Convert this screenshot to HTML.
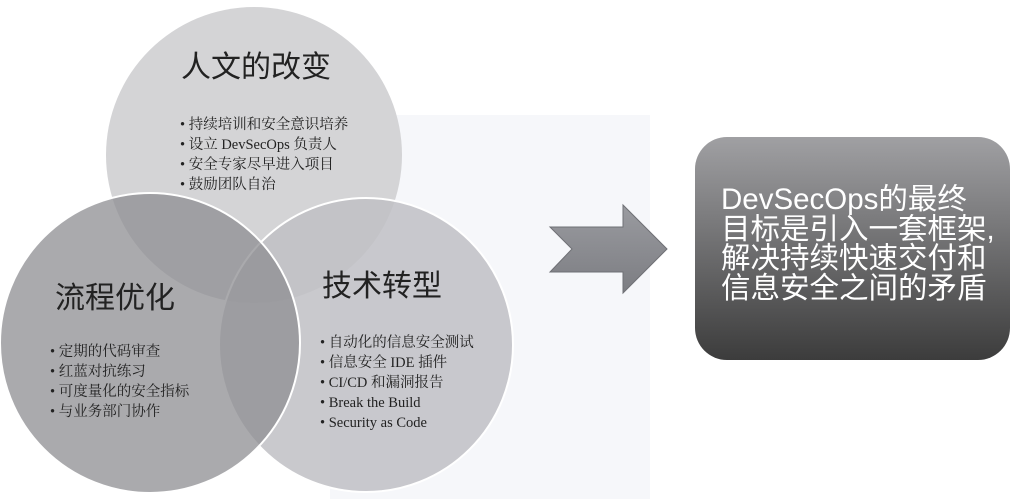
<!DOCTYPE html>
<html><head><meta charset="utf-8"><style>
body{margin:0;width:1013px;height:499px;background:#fff;overflow:hidden;position:relative;font-family:"Liberation Serif","Noto Serif CJK SC",serif}
.t{position:absolute;font-family:"Liberation Sans","Noto Sans CJK SC",sans-serif;font-size:30px;color:#222;white-space:nowrap;line-height:1}
.b{position:absolute;font-size:14.5px;color:#222;line-height:20px;white-space:nowrap}
</style></head><body>
<svg width="1013" height="499" style="position:absolute;left:0;top:0">
<defs>
<linearGradient id="g" x1="0" y1="0" x2="0" y2="1"><stop offset="0" stop-color="#a0a0a3"/><stop offset="1" stop-color="#3c3c3c"/></linearGradient>
<linearGradient id="a" x1="0" y1="0" x2="0" y2="1"><stop offset="0" stop-color="#9a9ba0"/><stop offset="1" stop-color="#7c7d82"/></linearGradient>
</defs>
<rect x="330" y="115" width="320" height="384" fill="#f6f7fa"/>
<circle cx="254" cy="155" r="148" fill="#d4d4d6"/>
<circle cx="366" cy="345" r="147" fill="#bfc0c4" fill-opacity="0.85" stroke="#fff" stroke-width="2"/>
<circle cx="150" cy="343" r="150" fill="#8e8e91" fill-opacity="0.75" stroke="#fff" stroke-width="2"/>
<polygon points="550,227 623,227 623,205 667,249 623,293 623,272 550,272 572,249" fill="url(#a)" stroke="#6f7075" stroke-width="1"/>
<rect x="695" y="137" width="315" height="223" rx="32" fill="url(#g)"/>
</svg>
<div class="t" style="left:181px;top:53px">人文的改变</div>
<div class="t" style="left:55px;top:284px">流程优化</div>
<div class="t" style="left:322px;top:272px">技术转型</div>
<div class="b" style="left:180px;top:115px">• 持续培训和安全意识培养<br>• 设立 DevSecOps 负责人<br>• 安全专家尽早进入项目<br>• 鼓励团队自治</div>
<div class="b" style="left:50px;top:342px">• 定期的代码审查<br>• 红蓝对抗练习<br>• 可度量化的安全指标<br>• 与业务部门协作</div>
<div class="b" style="left:320px;top:333px">• 自动化的信息安全测试<br>• 信息安全 IDE 插件<br>• CI/CD 和漏洞报告<br>• Break the Build<br>• Security as Code</div>
<div style="position:absolute;left:721px;top:185px;color:#fff;font-family:'Liberation Sans','Noto Sans CJK SC',sans-serif;font-size:29.5px;line-height:29.5px;white-space:nowrap">DevSecOps的最终<br>目标是引入一套框架,<br>解决持续快速交付和<br>信息安全之间的矛盾</div>
</body></html>
